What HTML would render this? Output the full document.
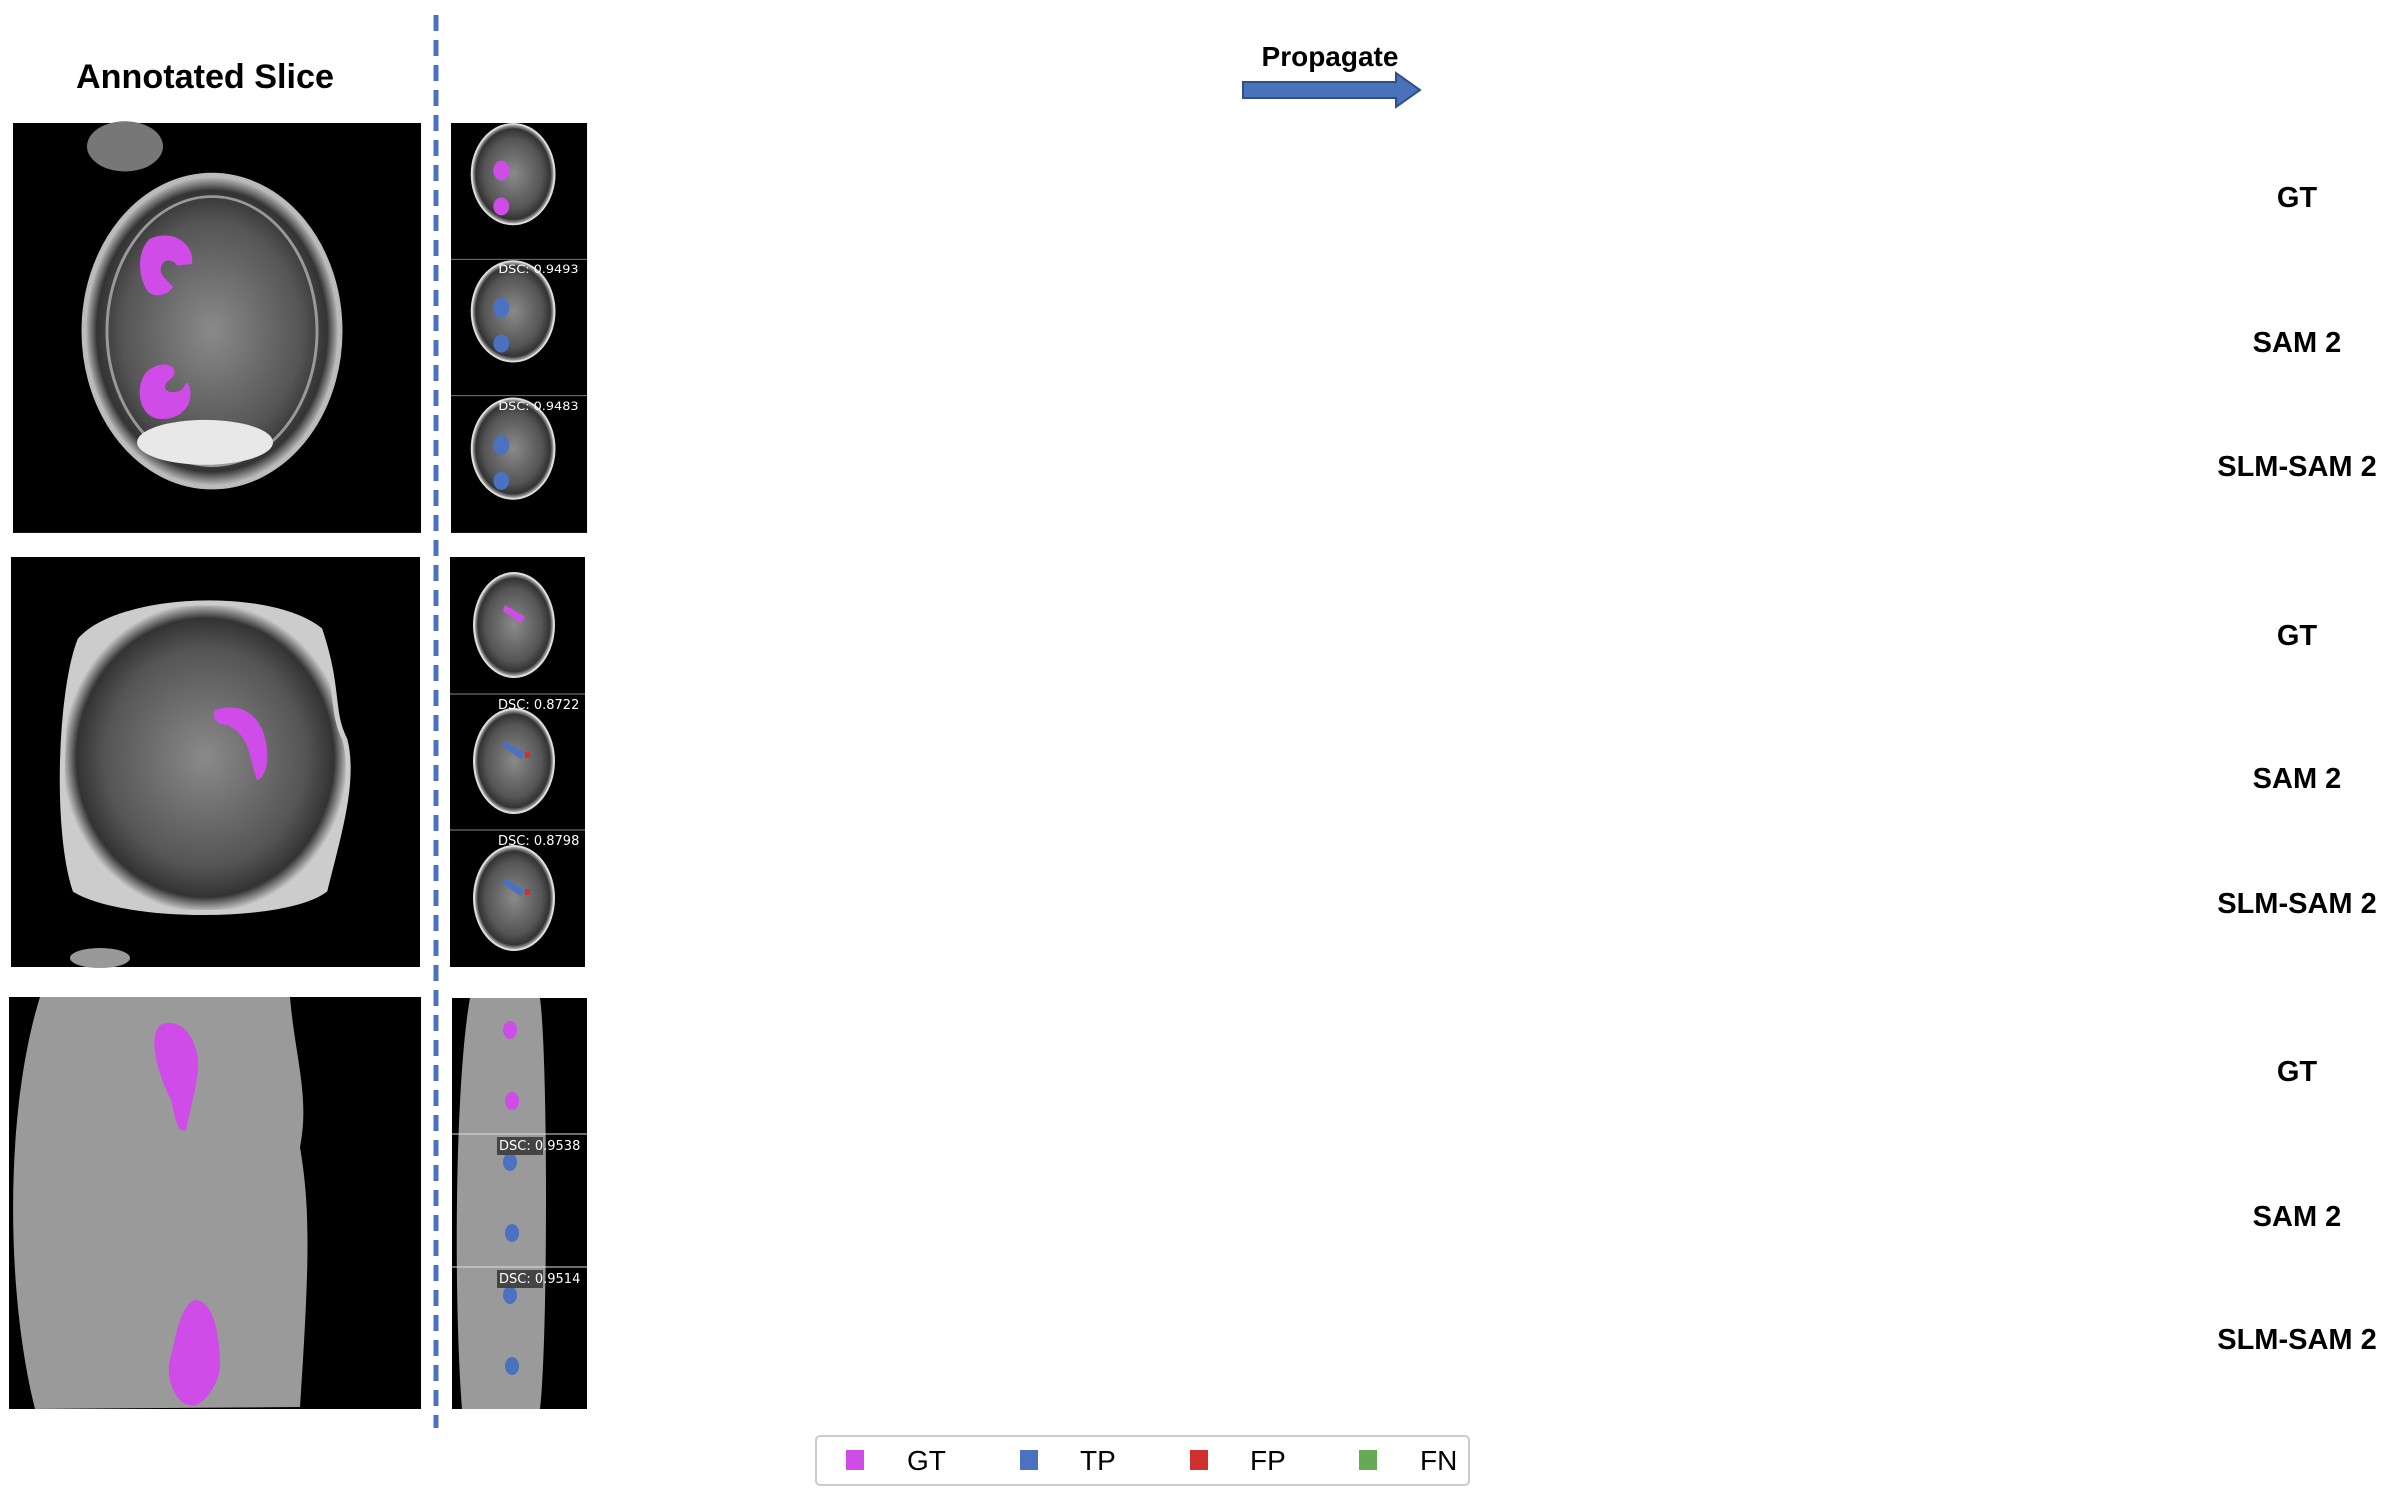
<!DOCTYPE html>
<html><head><meta charset="utf-8"><style>
html,body{margin:0;padding:0;background:#fff;}
body{width:2384px;height:1496px;overflow:hidden;position:relative;font-family:"Liberation Sans",sans-serif;}
svg{position:absolute;left:0;top:0;}
</style></head><body>
<svg width="2384" height="1496" viewBox="0 0 2384 1496" xmlns="http://www.w3.org/2000/svg">
<defs>
<radialGradient id="mri" cx="50%" cy="50%" r="50%">
<stop offset="0" stop-color="#8a8a8a"/><stop offset="0.7" stop-color="#555"/><stop offset="0.9" stop-color="#333"/><stop offset="1" stop-color="#ccc"/>
</radialGradient>
</defs>

<text x="205" y="88" font-size="34" font-weight="bold" text-anchor="middle" fill="#000" textLength="258" lengthAdjust="spacingAndGlyphs">Annotated Slice</text>
<text x="1330" y="66" font-size="28" font-weight="bold" text-anchor="middle" fill="#000">Propagate</text>
<polygon points="1243,82 1396,82 1396,73 1420,90 1396,107 1396,98 1243,98" fill="#4a72b8" stroke="#2f4f8a" stroke-width="2"/>

<line x1="436" y1="15" x2="436" y2="1428" stroke="#4a72c0" stroke-width="5" stroke-dasharray="16,9"/>

<!-- Row 1 -->
<g transform="translate(0,123) scale(1,0.897) translate(0,-139)">
<g>
<rect x="13" y="139" width="408" height="457" fill="#000"/>
<ellipse cx="125" cy="165" rx="38" ry="28" fill="#777"/>
<ellipse cx="212" cy="371" rx="128" ry="174" fill="url(#mri)" stroke="#bbb" stroke-width="5"/>
<ellipse cx="212" cy="371" rx="105" ry="150" fill="none" stroke="#999" stroke-width="3"/>
<ellipse cx="205" cy="495" rx="68" ry="25" fill="#e8e8e8"/>
<path d="M150,268 c25,-12 45,8 42,28 l-15,2 c-4,-8 -14,-8 -16,2 c-2,10 8,15 12,22 c-6,10 -18,12 -25,5 c-10,-15 -12,-45 2,-59z" fill="#d04ce8"/>
<path d="M148,415 c18,-15 35,-2 22,10 c-8,6 -6,15 4,14 c12,0 10,-12 14,-10 c8,20 -4,40 -26,40 c-25,0 -28,-40 -14,-54z" fill="#d04ce8"/>
</g>
<g transform="translate(451,0) scale(0.986,1) translate(-455,0)">
<rect x="455" y="139" width="138" height="457" fill="#000"/>
<g><ellipse cx="518" cy="196" rx="42" ry="56" fill="url(#mri)" stroke="#ddd" stroke-width="2"/><ellipse cx="506" cy="192" rx="8" ry="11" fill="#d04ce8"/><ellipse cx="506" cy="232" rx="8" ry="10" fill="#d04ce8"/></g>
<line x1="455" y1="291" x2="593" y2="291" stroke="#888" stroke-width="1"/>
<g><ellipse cx="518" cy="349" rx="42" ry="56" fill="url(#mri)" stroke="#ddd" stroke-width="2"/><ellipse cx="506" cy="345" rx="8" ry="11" fill="#4a72c0"/><ellipse cx="506" cy="385" rx="8" ry="10" fill="#4a72c0"/>
<text x="503" y="306" font-size="13" fill="#fff" font-family="DejaVu Sans, sans-serif">DSC: 0.9493</text></g>
<line x1="455" y1="443" x2="593" y2="443" stroke="#888" stroke-width="1"/>
<g><ellipse cx="518" cy="502" rx="42" ry="56" fill="url(#mri)" stroke="#ddd" stroke-width="2"/><ellipse cx="506" cy="498" rx="8" ry="11" fill="#4a72c0"/><ellipse cx="506" cy="538" rx="8" ry="10" fill="#4a72c0"/>
<text x="503" y="459" font-size="13" fill="#fff" font-family="DejaVu Sans, sans-serif">DSC: 0.9483</text></g>
</g>
</g>

<!-- Row 2 big -->
<g>
<rect x="11" y="557" width="409" height="410" fill="#000"/>
<path d="M80,640 c40,-45 190,-50 240,-10 c20,60 10,80 25,110 c10,40 -5,90 -20,150 c-40,30 -200,30 -250,0 c-20,-60 -15,-200 5,-250z" fill="url(#mri)" stroke="#ccc" stroke-width="5"/>
<ellipse cx="100" cy="958" rx="30" ry="10" fill="#999"/>
<path d="M215,710 c30,-10 50,10 52,40 c2,20 -6,30 -10,30 c-8,-20 -6,-45 -30,-55 c-8,0 -16,-5 -12,-15z" fill="#d04ce8"/>
</g>
<g>
<rect x="450" y="557" width="135" height="410" fill="#000"/>
<ellipse cx="514" cy="625" rx="40" ry="52" fill="url(#mri)" stroke="#ddd" stroke-width="2"/><path d="M505,605 l20,12 l-4,6 l-18,-12z" fill="#d04ce8"/>
<line x1="450" y1="694" x2="585" y2="694" stroke="#888"/>
<ellipse cx="514" cy="761" rx="40" ry="52" fill="url(#mri)" stroke="#ddd" stroke-width="2"/><path d="M505,741 l20,12 l-4,6 l-18,-12z" fill="#4a72c0"/><rect x="525" y="752" width="5" height="6" fill="#d03030"/>
<text x="498" y="709" font-size="13" fill="#fff" font-family="DejaVu Sans, sans-serif">DSC: 0.8722</text>
<line x1="450" y1="830" x2="585" y2="830" stroke="#888"/>
<ellipse cx="514" cy="898" rx="40" ry="52" fill="url(#mri)" stroke="#ddd" stroke-width="2"/><path d="M505,878 l20,12 l-4,6 l-18,-12z" fill="#4a72c0"/><rect x="525" y="889" width="5" height="6" fill="#d03030"/>
<text x="498" y="845" font-size="13" fill="#fff" font-family="DejaVu Sans, sans-serif">DSC: 0.8798</text>
</g>

<!-- Row 3 big CT -->
<g>
<rect x="9" y="997" width="412" height="412" fill="#000"/>
<path d="M40,997 L290,997 c5,60 20,100 10,150 c10,60 10,110 0,260 L35,1409 c-30,-120 -30,-300 5,-412z" fill="#9a9a9a"/>
<path d="M160,1025 c25,-10 40,20 38,45 c-2,20 -10,50 -12,60 c-10,5 -12,-20 -15,-30 c-10,-20 -25,-60 -11,-75z" fill="#d04ce8"/>
<path d="M195,1300 c20,0 25,40 25,65 c0,20 -20,45 -30,40 c-15,0 -25,-30 -20,-45 c5,-20 10,-55 25,-60z" fill="#d04ce8"/>
</g>
<g>
<rect x="452" y="998" width="135" height="411" fill="#000"/>
<path d="M470,998 L540,998 c8,60 8,340 0,411 L462,1409 c-8,-100 -8,-320 8,-411z" fill="#9a9a9a"/>
<ellipse cx="510" cy="1030" rx="7" ry="9" fill="#d04ce8"/><ellipse cx="512" cy="1101" rx="7" ry="9" fill="#d04ce8"/>
<line x1="452" y1="1134" x2="587" y2="1134" stroke="#ddd"/>
<ellipse cx="510" cy="1162" rx="7" ry="9" fill="#4a72c0"/><ellipse cx="512" cy="1233" rx="7" ry="9" fill="#4a72c0"/>
<rect x="497" y="1137" width="46" height="18" fill="#444"/><text x="499" y="1150" font-size="13" fill="#fff" font-family="DejaVu Sans, sans-serif">DSC: 0.9538</text>
<line x1="452" y1="1267" x2="587" y2="1267" stroke="#ddd"/>
<ellipse cx="510" cy="1295" rx="7" ry="9" fill="#4a72c0"/><ellipse cx="512" cy="1366" rx="7" ry="9" fill="#4a72c0"/>
<rect x="497" y="1270" width="46" height="18" fill="#444"/><text x="499" y="1283" font-size="13" fill="#fff" font-family="DejaVu Sans, sans-serif">DSC: 0.9514</text>
</g>

<!-- Row labels -->
<g font-size="29" font-weight="bold" text-anchor="middle" fill="#000">
<text x="2297" y="207">GT</text>
<text x="2297" y="352">SAM 2</text>
<text x="2297" y="476">SLM-SAM 2</text>
<text x="2297" y="645">GT</text>
<text x="2297" y="788">SAM 2</text>
<text x="2297" y="913">SLM-SAM 2</text>
<text x="2297" y="1081">GT</text>
<text x="2297" y="1226">SAM 2</text>
<text x="2297" y="1349">SLM-SAM 2</text>
</g>

<!-- Legend -->
<g>
<rect x="816" y="1436" width="653" height="49" rx="4" fill="#fff" stroke="#ccc" stroke-width="2"/>
<g><rect x="846" y="1450" width="18" height="20" fill="#d04ce8"/><text x="907" y="1470" font-size="28" fill="#000">GT</text></g>
<g><rect x="1020" y="1450" width="18" height="20" fill="#4a72c0"/><text x="1080" y="1470" font-size="28" fill="#000">TP</text></g>
<g><rect x="1190" y="1450" width="18" height="20" fill="#d03030"/><text x="1250" y="1470" font-size="28" fill="#000">FP</text></g>
<g><rect x="1359" y="1450" width="18" height="20" fill="#66aa55"/><text x="1420" y="1470" font-size="28" fill="#000">FN</text></g>
</g>
</svg>
</body></html>
